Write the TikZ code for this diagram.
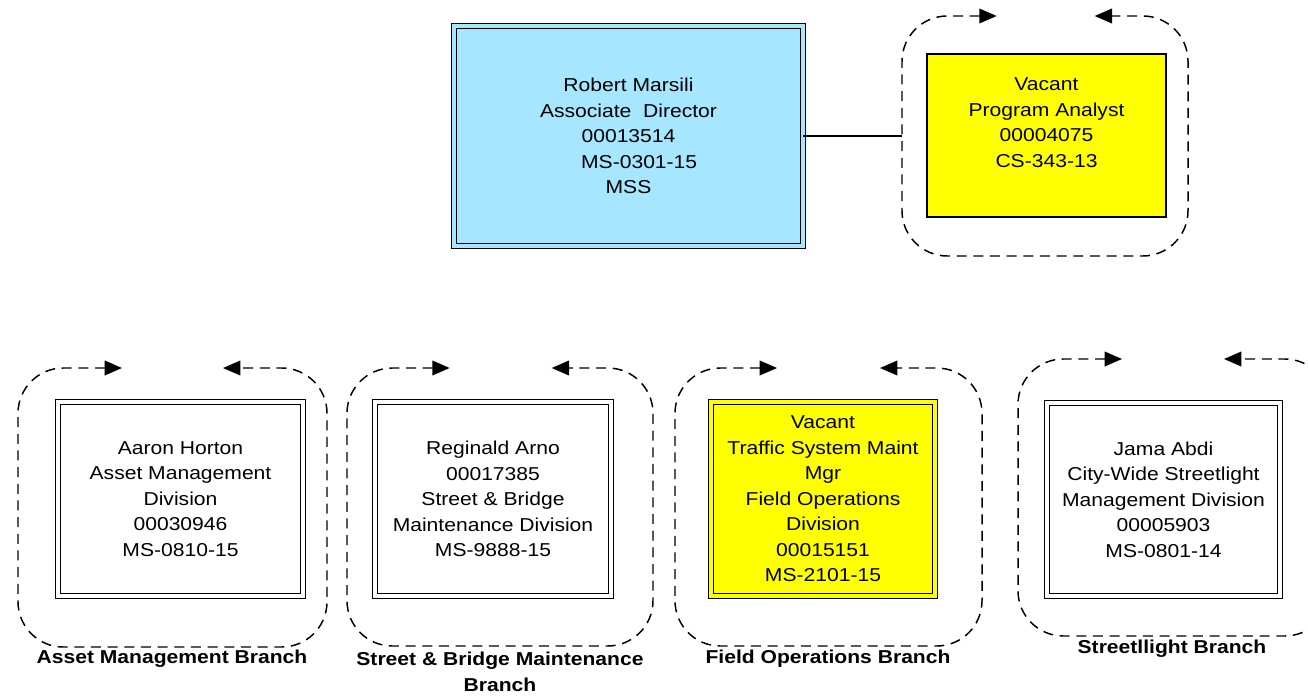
\documentclass[tikz,border=0pt]{standalone}
\usepackage{fontspec}
\setmainfont[FakeStretch=1.13]{Liberation Sans}
\usetikzlibrary{arrows.meta}
\definecolor{bossblue}{RGB}{166,230,255}
\definecolor{vacyellow}{RGB}{255,255,0}
\tikzset{
  txt/.style={align=center,font=\fontsize{14}{19.1}\selectfont},
  dbox/.style={txt,draw=black,line width=1.1pt,double distance=2.3pt,inner sep=0pt,outer sep=0pt},
  sbox/.style={txt,draw=black,line width=1.1pt,inner sep=0pt,outer sep=0pt},
  holder/.style={draw=none,inner sep=0pt,outer sep=0pt},
  dframe/.style={draw=black,line width=1.1pt,dash pattern=on 7.5pt off 5pt,rounded corners=34pt,
     {Triangle[length=13pt,width=11pt]}-{Triangle[length=13pt,width=11pt]}},
  branchlbl/.style={align=center,font=\fontsize{14}{19.1}\selectfont\bfseries},
  link/.style={draw=black,line width=1.1pt}
}
\newcommand\dashframe[3]{%
  \draw[dframe] ([xshift=#2]#1.north west) -- (#1.north west) -- (#1.south west)
     -- (#1.south east) -- (#1.north east) -- ([xshift=-#3]#1.north east);}
\begin{document}
\begin{tikzpicture}[x=0.75pt,y=-0.75pt]
\useasboundingbox (0,0) rectangle (1308,696);

% top level
\node[dbox,fill=bossblue,double=bossblue,minimum width=261.75pt,minimum height=165pt] (boss) at (628.5,136)
  {Robert Marsili\\Associate~ Director\\00013514\\\hspace*{16pt}MS-0301-15\\MSS};

\node[holder,minimum width=214.5pt,minimum height=180pt] (c0) at (1045,136) {};
\dashframe{c0}{71pt}{70pt}
\node[sbox,fill=vacyellow,minimum width=179.25pt,minimum height=122.25pt] (prog) at (1046.5,135.5)
  {Vacant\\Program Analyst\\00004075\\CS-343-13\\\mbox{}};

\draw[link] (boss.east) -- (c0.west);

% branches
\node[holder,minimum width=231.75pt,minimum height=209.25pt] (cA) at (172.5,507.5) {};
\dashframe{cA}{78pt}{78pt}
\node[dbox,fill=white,double=white,minimum width=183.75pt,minimum height=145.5pt] (bA) at (180.5,499)
  {Aaron Horton\\Asset Management\\Division\\00030946\\MS-0810-15};
\node[branchlbl] (lA) at (172,659) {Asset Management Branch};

\node[holder,minimum width=229.5pt,minimum height=208.5pt] (cB) at (500,507) {};
\dashframe{cB}{77pt}{76pt}
\node[dbox,fill=white,double=white,minimum width=177pt,minimum height=145.5pt] (bB) at (493,499)
  {Reginald Arno\\00017385\\Street \& Bridge\\Maintenance Division\\MS-9888-15};
\node[branchlbl] (lB) at (500,672) {Street \& Bridge Maintenance\\Branch};

\node[holder,minimum width=230.25pt,minimum height=208.5pt] (cC) at (828.5,507) {};
\dashframe{cC}{76.5pt}{76.5pt}
\node[dbox,fill=vacyellow,double=vacyellow,minimum width=168pt,minimum height=145.5pt] (bC) at (823,499)
  {Vacant\\Traffic System Maint\\Mgr\\Field Operations\\Division\\00015151\\MS-2101-15};
\node[branchlbl] (lC) at (828,659) {Field Operations Branch};

\node[holder,minimum width=234pt,minimum height=207.75pt] (cD) at (1174,497.5) {};
\dashframe{cD}{78pt}{79.5pt}
\node[dbox,fill=white,double=white,minimum width=174.75pt,minimum height=144.75pt] (bD) at (1163.5,499.5)
  {Jama Abdi\\City-Wide Streetlight\\Management Division\\00005903\\MS-0801-14};
\node[branchlbl] (lD) at (1172,649) {Streetllight Branch};
\end{tikzpicture}
\end{document}
